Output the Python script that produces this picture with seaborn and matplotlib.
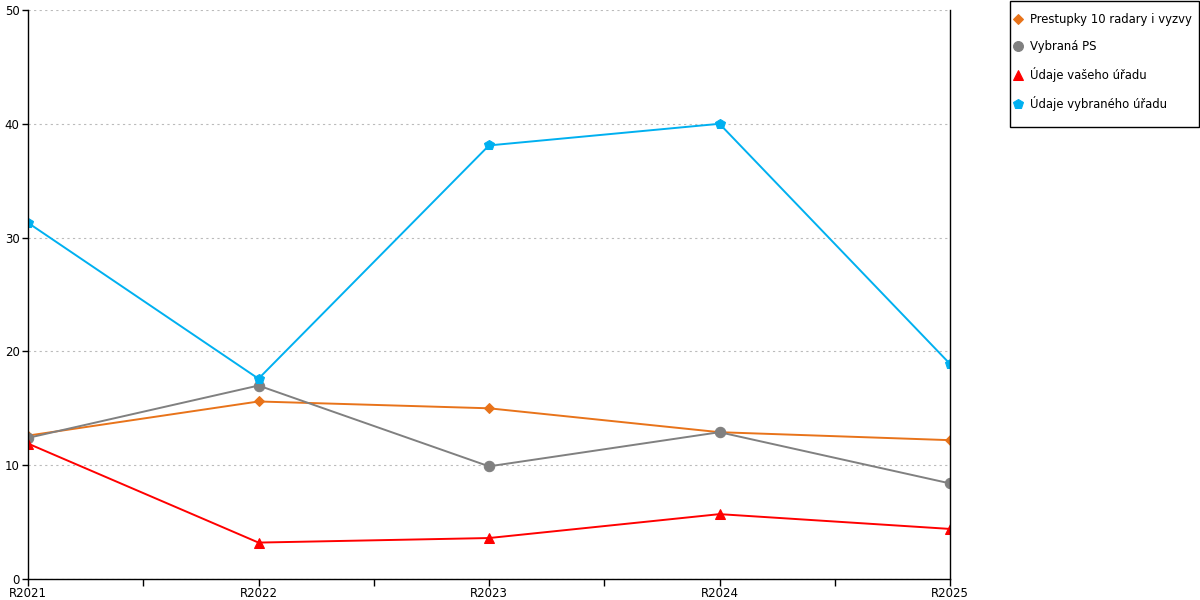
import matplotlib
matplotlib.use("Agg")
import matplotlib.pyplot as plt
import seaborn as sns
import pandas as pd
from matplotlib.ticker import MultipleLocator
from matplotlib.patches import Rectangle

categories = ["R2021", "R2022", "R2023", "R2024", "R2025"]
series_names = ["Prestupky 10 radary i vyzvy", "Vybraná PS", "Údaje vašeho úřadu", "Údaje vybraného úřadu"]
prestupky = [12.6, 15.6, 15.0, 12.9, 12.2]
vybrana_ps = [12.4, 17.0, 9.9, 12.9, 8.4]
vaseho = [11.9, 3.2, 3.6, 5.7, 4.4]
vybraneho = [31.3, 17.6, 38.1, 40.0, 18.9]

colors = ["#E8731A", "#808080", "#FF0000", "#00B0F0"]
markers = ["D", "o", "^", "p"]
msizes = [5.5, 7.5, 7.5, 7.5]

rows = []
for name, vals in zip(series_names, [prestupky, vybrana_ps, vaseho, vybraneho]):
    for i, (c, v) in enumerate(zip(categories, vals)):
        rows.append({"cat": c, "x": i, "value": v, "series": name})
df = pd.DataFrame(rows)

sns.set_style("white")
plt.rcParams["font.family"] = ["DejaVu Sans"]
plt.rcParams["text.color"] = "black"
plt.rcParams["xtick.color"] = "black"
plt.rcParams["ytick.color"] = "black"

fig = plt.figure(figsize=(12, 6), dpi=100)
ax = fig.add_axes([28/1200, 21/600, (950-28)/1200, (579-10)/600])

for name, col, mk, ms in zip(series_names, colors, markers, msizes):
    sub = df[df["series"] == name]
    sns.lineplot(data=sub, x="x", y="value", ax=ax, color=col, marker=mk,
                 markersize=ms, markeredgecolor=col, linewidth=1.4, label=name)

ax.set_xlim(0, len(categories) - 1)
ax.set_ylim(0, 50)
ax.set_xticks(range(len(categories)))
ax.set_xticklabels(categories)
ax.xaxis.set_minor_locator(MultipleLocator(0.5))
ax.yaxis.set_major_locator(MultipleLocator(10))
ax.set_xlabel("")
ax.set_ylabel("")
ax.grid(axis="y", linestyle=(0, (2, 3)), color="#BBBBBB", linewidth=0.8)
ax.set_axisbelow(True)
for s in ["left", "bottom", "right"]:
    ax.spines[s].set_visible(True)
    ax.spines[s].set_color("black")
    ax.spines[s].set_linewidth(1.0)
ax.spines["top"].set_visible(False)
ax.tick_params(axis="x", which="both", direction="out", length=5, width=1, labelsize=8.5, pad=1, bottom=True, colors="black")
ax.tick_params(axis="y", which="major", direction="out", length=4, width=1, labelsize=8.5, pad=2, left=True, colors="black")
ax.tick_params(axis="y", right=False)

leg = ax.legend(loc="upper left", bbox_to_anchor=(1013/1200, 1 - 13/600), bbox_transform=fig.transFigure,
                frameon=False, fontsize=8.4,
                handlelength=0.9, handletextpad=0.55, labelspacing=1.2, borderpad=0,
                borderaxespad=0, markerscale=0.95)
for h in leg.get_lines():
    h.set_linestyle("none")
for t in leg.get_texts():
    t.set_color("black")

frame = Rectangle((1009.5/1200, 1 - 127/600), 189.5/1200, 126.5/600, transform=fig.transFigure,
                  facecolor="white", edgecolor="black", linewidth=1.0, zorder=-1)
fig.patches.append(frame)

fig.savefig("out.png", dpi=100)
